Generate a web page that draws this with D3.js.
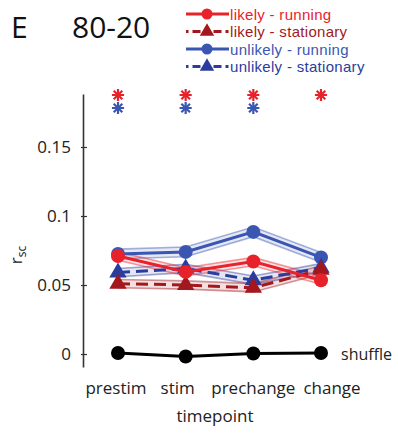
<!DOCTYPE html>
<html>
<head>
<meta charset="utf-8">
<script src="https://cdn.jsdelivr.net/npm/d3@7"></script>
<style>
  body { margin: 0; background: #fff; }
  svg { font-family: "Open Sans", sans-serif; }
</style>
</head>
<body>
<div id="chart"></div>
<script>
// dados
const timepoints = ["prestim", "stim", "prechange", "change"];
const yTicks = [0, 0.05, 0.1, 0.15];

const likelyRunning = [0.071, 0.0595, 0.067, 0.0535];
const likelyRunningErr = [0.003, 0.003, 0.003, 0.003];
const likelyStationary = [0.051, 0.050, 0.048, 0.061];
const likelyStationaryErr = [0.003, 0.003, 0.003, 0.003];
const unlikelyRunning = [0.0725, 0.074, 0.0885, 0.070];
const unlikelyRunningErr = [0.0035, 0.0035, 0.0035, 0.0035];
const unlikelyStationary = [0.059, 0.062, 0.0535, 0.0625];
const unlikelyStationaryErr = [0.003, 0.003, 0.003, 0.003];
const shuffle = [0.0007, -0.0018, 0.0004, 0.0007];

const redSig = [1, 1, 1, 1];
const blueSig = [1, 1, 1, 0];

const series = [
  {name: "unlikely - running", values: unlikelyRunning, err: unlikelyRunningErr, color: "#3a56b2", marker: "circle", dashed: false},
  {name: "unlikely - stationary", values: unlikelyStationary, err: unlikelyStationaryErr, color: "#2c3c9c", marker: "triangle", dashed: true},
  {name: "likely - stationary", values: likelyStationary, err: likelyStationaryErr, color: "#a3181e", marker: "triangle", dashed: true},
  {name: "likely - running", values: likelyRunning, err: likelyRunningErr, color: "#e8222b", marker: "circle", dashed: false}
];
const legendOrder = ["likely - running", "likely - stationary", "unlikely - running", "unlikely - stationary"];

const width = 398, height = 433;

const svg = d3.select("#chart").append("svg")
  .attr("width", width)
  .attr("height", height);

// escalas
const x = d3.scalePoint().domain(timepoints).range([118, 321]);
const y = d3.scaleLinear().domain([-0.0094, 0.1884]).range([367, 94]);

// eixo y
const yAxis = svg.append("g")
  .attr("transform", "translate(83,0)")
  .call(d3.axisLeft(y).tickValues(yTicks).tickSizeInner(-4).tickSizeOuter(0).tickPadding(12)
    .tickFormat(d => String(d)));
yAxis.select(".domain").attr("stroke", "#333").attr("stroke-width", 1.6);
yAxis.selectAll(".tick line").attr("stroke", "#333").attr("stroke-width", 1.2).attr("x1", -2);
yAxis.selectAll(".tick text").attr("font-size", 17).attr("fill", "#222").attr("font-family", "Open Sans");

// rótulo y
const yl = svg.append("text")
  .attr("transform", "translate(22,255) rotate(-90)")
  .attr("text-anchor", "middle")
  .attr("fill", "#222")
  .attr("font-size", 17);
yl.append("tspan").text("r");
yl.append("tspan").attr("font-size", 12).attr("dy", 4).text("sc");

// rótulos x (no original estão um pouco deslocados)
const labelNudge = {prestim: -2, stim: -8, prechange: 0, change: 11};
svg.selectAll(".xlab").data(timepoints).enter().append("text")
  .attr("x", d => x(d) + labelNudge[d])
  .attr("y", 394)
  .attr("text-anchor", "middle")
  .attr("font-size", 17)
  .attr("fill", "#222")
  .text(d => d);

svg.append("text")
  .attr("x", 215).attr("y", 422)
  .attr("text-anchor", "middle")
  .attr("font-size", 17)
  .attr("fill", "#222")
  .text("timepoint");

// faixas de erro
const area = d3.area()
  .x((d, i) => x(timepoints[i]))
  .y0(d => y(d[0] - d[1]))
  .y1(d => y(d[0] + d[1]));
const line = d3.line().x((d, i) => x(timepoints[i])).y(d => y(d));

series.forEach(s => {
  const pts = s.values.map((v, i) => [v, s.err[i]]);
  svg.append("path").attr("d", area(pts))
    .attr("fill", s.color).attr("fill-opacity", 0.13);
  [1, -1].forEach(k => {
    svg.append("path").attr("d", line(s.values.map((v, i) => v + k * s.err[i])))
      .attr("fill", "none").attr("stroke", s.color).attr("stroke-opacity", 0.45).attr("stroke-width", 1.6);
  });
});

const triangle = d3.symbol().type(d3.symbolTriangle);

series.forEach(s => {
  svg.append("path").attr("d", line(s.values))
    .attr("fill", "none").attr("stroke", s.color).attr("stroke-width", 3)
    .attr("stroke-dasharray", s.dashed ? "12,6" : null);
  s.values.forEach((v, i) => {
    if (s.marker === "circle") {
      svg.append("circle").attr("cx", x(timepoints[i])).attr("cy", y(v)).attr("r", 7).attr("fill", s.color);
    } else {
      svg.append("path").attr("d", triangle.size(130)())
        .attr("transform", `translate(${x(timepoints[i])},${y(v)})`).attr("fill", s.color);
    }
  });
});

// shuffle
svg.append("path").attr("d", line(shuffle))
  .attr("fill", "none").attr("stroke", "#000").attr("stroke-width", 3);
svg.selectAll(".shuf").data(shuffle).enter().append("circle")
  .attr("cx", (d, i) => x(timepoints[i])).attr("cy", d => y(d)).attr("r", 7).attr("fill", "#000");
svg.append("text").attr("x", 341).attr("y", y(0) + 6)
  .attr("font-size", 16).attr("fill", "#222").text("shuffle");

// asteriscos de significância
function asterisk(cx, cy, color) {
  const g = svg.append("g").attr("transform", `translate(${cx},${cy})`)
    .attr("stroke", color).attr("stroke-width", 2.2).attr("fill", "none");
  g.append("path").attr("d", d3.symbol().type(d3.symbolPlus).size(50)());
  g.append("path").attr("d", d3.symbol().type(d3.symbolTimes).size(50)());
}
redSig.forEach((s, i) => { if (s) asterisk(x(timepoints[i]), 95, "#e8222b"); });
blueSig.forEach((s, i) => { if (s) asterisk(x(timepoints[i]), 108, "#3a56b2"); });

// título
svg.append("text").attr("x", 11).attr("y", 38).attr("font-size", 30).attr("fill", "#111").text("E");
svg.append("text").attr("x", 72).attr("y", 38).attr("font-size", 30).attr("fill", "#111").text("80-20");

// legenda
legendOrder.forEach((name, i) => {
  const s = series.find(d => d.name === name);
  const ly = 14 + i * 17.5;
  const g = svg.append("g").attr("transform", `translate(186,${ly})`);
  g.append("line").attr("x1", 0).attr("x2", 43).attr("y1", 0).attr("y2", 0)
    .attr("stroke", s.color).attr("stroke-width", 3)
    .attr("stroke-dasharray", s.dashed ? "2.5,4,8,13,8,4,3" : null);
  if (s.marker === "circle") {
    g.append("circle").attr("cx", 21).attr("cy", 0).attr("r", 5.5).attr("fill", s.color);
  } else {
    g.append("path").attr("d", triangle.size(90)()).attr("transform", "translate(21,0)").attr("fill", s.color);
  }
  g.append("text").attr("x", 44).attr("y", 5.5)
    .attr("font-family", "Liberation Sans").attr("font-size", 15).attr("letter-spacing", 0.3)
    .attr("fill", s.color).text(name);
});
</script>
</body>
</html>
